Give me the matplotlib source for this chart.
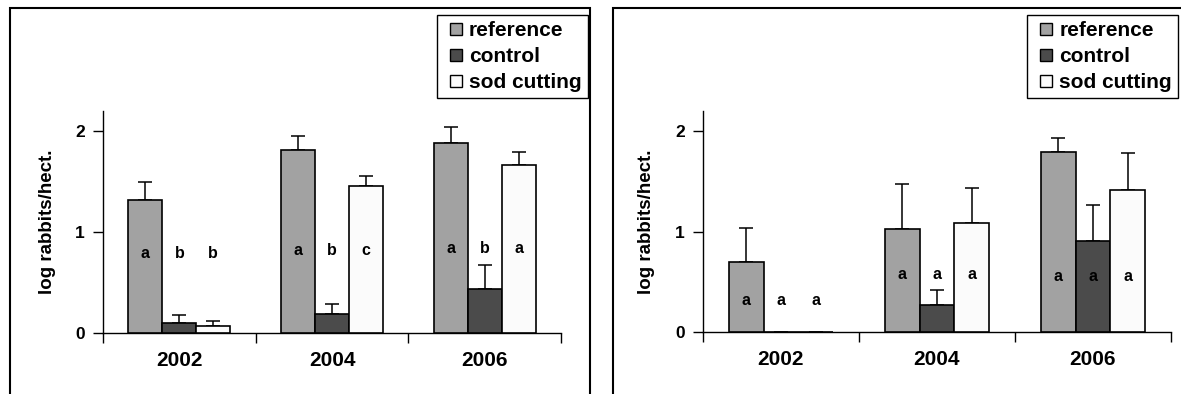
import numpy as np
import matplotlib
matplotlib.use('Agg')
import matplotlib.pyplot as plt
from matplotlib.patches import Rectangle
from matplotlib.lines import Line2D

plt.rcParams['font.family'] = ['Liberation Sans', 'DejaVu Sans']
plt.rcParams['font.weight'] = 'bold'

years = ['2002', '2004', '2006']
series = ['reference', 'control', 'sod cutting']
colors = ['#a2a2a2', '#4b4b4b', '#fbfbfb']

# left panel
left_ref = [1.32, 1.81, 1.88]
left_ctrl = [0.10, 0.19, 0.44]
left_sod = [0.073, 1.455, 1.66]
left_ref_se = [0.18, 0.14, 0.16]
left_ctrl_se = [0.075, 0.10, 0.23]
left_sod_se = [0.042, 0.105, 0.13]
left_letters = [['a', 'b', 'b'], ['a', 'b', 'c'], ['a', 'b', 'a']]
left_letter_y = [0.79, 0.82, 0.84]

# right panel
right_ref = [0.70, 1.03, 1.79]
right_ctrl = [0.0, 0.27, 0.91]
right_sod = [0.0, 1.09, 1.41]
right_ref_se = [0.34, 0.44, 0.14]
right_ctrl_se = [np.nan, 0.15, 0.355]
right_sod_se = [np.nan, 0.34, 0.37]
right_letters = [['a', 'a', 'a'], ['a', 'a', 'a'], ['a', 'a', 'a']]
right_letter_y = [0.31, 0.57, 0.555]

W = 1181
H = 394
fig = plt.figure(figsize=(W / 100, H / 100), dpi=100)


def panel(rect, vals, ses, letters, letter_y):
    ax = fig.add_axes(rect)
    x = np.arange(len(years)) + 0.5
    w = 0.222
    for i, (v, se) in enumerate(zip(vals, ses)):
        xi = x + (i - 1) * w
        ax.bar(xi, v, width=w, color=colors[i], edgecolor='black',
               linewidth=1.2, zorder=3, label=series[i])
        se = np.array(se, dtype=float)
        ax.errorbar(xi, v, yerr=[np.zeros_like(se), se], fmt='none',
                    ecolor='black', elinewidth=1.1, capsize=5, capthick=1.1,
                    zorder=2)
        for j in range(len(years)):
            ax.text(xi[j], letter_y[j], letters[j][i], ha='center',
                    va='center', fontsize=11.5, fontweight='bold', zorder=4)
    ax.set_xlim(0, 3)
    ax.set_ylim(0, 2.2)
    ax.set_yticks([0, 1, 2])
    ax.set_yticklabels(['0', '1', '2'], fontsize=12.5, fontweight='bold')
    ax.set_xticks(x)
    ax.set_xticklabels(years, fontsize=15, fontweight='bold')
    ax.set_xticks([0, 1, 2, 3], minor=True)
    ax.tick_params(axis='x', which='major', length=0, pad=13)
    ax.tick_params(axis='x', which='minor', length=7, width=1, direction='out')
    ax.tick_params(axis='y', length=7, width=1, direction='out', pad=6)
    for s in ['top', 'right']:
        ax.spines[s].set_visible(False)
    for s in ['left', 'bottom']:
        ax.spines[s].set_linewidth(1.0)
    ax.set_ylabel('log rabbits/hect.', fontsize=13.5, fontweight='bold')
    ax.yaxis.set_label_coords(-0.103, 0.5)
    return ax


ax1 = panel([103 / W, 1 - 333 / H, 458 / W, 222 / H],
            [left_ref, left_ctrl, left_sod],
            [left_ref_se, left_ctrl_se, left_sod_se],
            left_letters, left_letter_y)
ax2 = panel([703 / W, 1 - 332 / H, 468 / W, 221 / H],
            [right_ref, right_ctrl, right_sod],
            [right_ref_se, right_ctrl_se, right_sod_se],
            right_letters, right_letter_y)

handles = [Line2D([], [], marker='s', linestyle='none', markersize=8,
                  markerfacecolor=c, markeredgecolor='black',
                  markeredgewidth=1) for c in colors]
for anchor, loc in [((588 / W, 1 - 15 / H), 'upper right'),
                    ((1027 / W, 1 - 15 / H), 'upper left')]:
    leg = fig.legend(handles, series, loc=loc, bbox_to_anchor=anchor,
                     bbox_transform=fig.transFigure, fancybox=False,
                     edgecolor='black', framealpha=1, borderaxespad=0,
                     prop={'size': 15, 'weight': 'bold'},
                     handlelength=1.2, handletextpad=0.05,
                     labelspacing=0.33, borderpad=0.3)
    leg.get_frame().set_linewidth(1.0)

# outer frames around each panel
fig.add_artist(Rectangle((10 / W, -0.1), 580 / W, 1.1 - 8 / H,
                         transform=fig.transFigure, fill=False,
                         edgecolor='black', linewidth=1.5))
fig.add_artist(Rectangle((613 / W, -0.1), 0.6, 1.1 - 8 / H,
                         transform=fig.transFigure, fill=False,
                         edgecolor='black', linewidth=1.5))

fig.savefig('out.png', dpi=100)
